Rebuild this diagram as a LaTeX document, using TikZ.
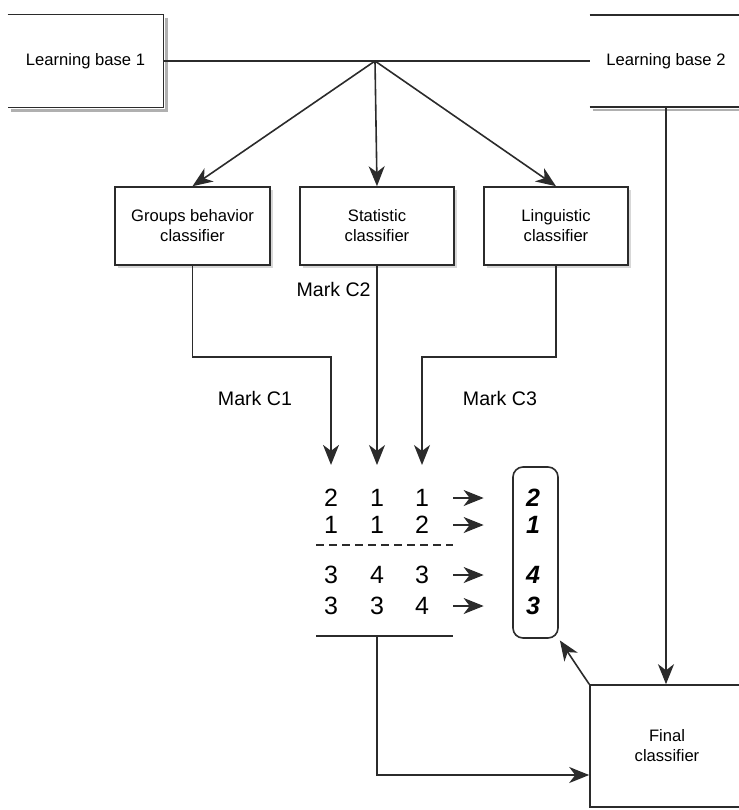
\documentclass[tikz,border=0pt]{standalone}
\usepackage{fontspec}
\setmainfont{Liberation Sans}
\usepackage{xcolor}
\definecolor{inkGrey}   {HTML}{2B2B2B}
\definecolor{shadeGrey} {HTML}{B0B0B0}
\usetikzlibrary{arrows.meta, positioning, calc, shadows}
\tikzset{
    clsbox/.style={draw=inkGrey, line width=0.8pt, fill=white, rectangle,
                   minimum width=77.5pt, minimum height=39pt, align=center,
                   font=\fontsize{8.3}{10}\selectfont,
                   drop shadow={shadow xshift=1.3pt, shadow yshift=-1.3pt,
                                fill=shadeGrey}},
    basebox/.style={rectangle, minimum width=77.5pt, minimum height=46pt,
                    font=\fontsize{8.3}{10}\selectfont},
    flow/.style={-{Stealth[length=10pt, width=8pt, inset=3pt]},
                 line width=0.8pt, draw=inkGrey},
    plain/.style={-, line width=0.8pt, draw=inkGrey},
    baseshadow/.style={-, line width=1.2pt, draw=shadeGrey},
}

\begin{document}
\begin{tikzpicture}[
    x=0.5pt, y=-0.5pt,
    marklbl/.style={font=\fontsize{9.8}{12}\selectfont, inner sep=1pt},
    digit/.style={font=\fontsize{12.5}{14}\selectfont, inner sep=1pt},
    winner/.style={font=\fontsize{12.5}{14}\selectfont\bfseries\itshape,
                   inner sep=1pt},
    resbox/.style={draw=inkGrey, line width=0.8pt, rectangle,
                   rounded corners=5pt, minimum width=22.5pt,
                   minimum height=85.5pt},
]
\useasboundingbox (0,0) rectangle (739,810);
\clip (0,0) rectangle (739,810);

% --- learning bases ---
\node[basebox] (lb1) at (85.5,61) {Learning base 1};
\node[basebox, minimum width=76pt, minimum height=45.5pt] (lb2) at (666,61)
    {Learning base 2};
\draw[baseshadow] ([shift={(3,3)}]lb1.north east) -- ([shift={(3,3)}]lb1.south east)
    -- ([shift={(3,3)}]lb1.south west);
\draw[plain] (lb1.north west) -- (lb1.north east) -- (lb1.south east)
    -- (lb1.south west);
\draw[baseshadow] ([shift={(3,3)}]lb2.south west) -- ([shift={(3,3)}]lb2.south east);
\draw[plain] (lb2.north west) -- (lb2.north east);
\draw[plain] (lb2.south west) -- (lb2.south east);
\draw[plain] (lb1.east) -- (lb2.west);
\coordinate (fan) at (375,61);

% --- classifiers ---
\node[clsbox] (gbc) at (192.5,226) {Groups behavior\\classifier};
\node[clsbox, minimum width=77pt] (sc) at (377,226) {Statistic\\classifier};
\node[clsbox, minimum width=72pt] (lc) at (556,226) {Linguistic\\classifier};
\draw[flow] (fan) -- (gbc.north);
\draw[flow] (fan) -- (sc.north);
\draw[flow] (fan) -- (lc.north);

% --- marks ---
\node[marklbl, anchor=east] (mk2) at (373,289) {Mark C2};
\node[marklbl] (mk1) at (255,398) {Mark C1};
\node[marklbl] (mk3) at (500,398) {Mark C3};

% --- vote table ---
\node[digit] (v11) at (331,498) {2};
\node[digit] (v12) at (377,498) {1};
\node[digit] (v13) at (422,498) {1};
\node[digit] (v21) at (331,525) {1};
\node[digit] (v22) at (377,525) {1};
\node[digit] (v23) at (422,525) {2};
\node[digit] (v31) at (331,575) {3};
\node[digit] (v32) at (377,575) {4};
\node[digit] (v33) at (422,575) {3};
\node[digit] (v41) at (331,606) {3};
\node[digit] (v42) at (377,606) {3};
\node[digit] (v43) at (422,606) {4};
\draw[flow, shorten >=11pt] (gbc.south) -- ++(0,91) -| (v11.north);
\draw[flow, shorten >=11pt] (sc.south) -- (v12.north);
\draw[flow, shorten >=11pt] (lc.south) -- ++(0,91) -| (v13.north);
\coordinate (sepL) at (316,545);
\coordinate (sepR) at (453,545);
\draw[plain, dash pattern=on 4pt off 2.5pt] (sepL) -- (sepR);
\coordinate (barL) at (316,636);
\coordinate (barR) at (453,636);
\coordinate (barM) at (377,636);
\draw[plain] (barL) -- (barR);

% --- results ---
\node[resbox] (res) at (535.5,552.5) {};
\node[winner] (r1) at (533,498) {2};
\node[winner] (r2) at (533,525) {1};
\node[winner] (r3) at (533,575) {4};
\node[winner] (r4) at (533,606) {3};
\draw[flow, shorten <=11pt, shorten >=20pt] (v13.east) -- (r1.west);
\draw[flow, shorten <=11pt, shorten >=20pt] (v23.east) -- (r2.west);
\draw[flow, shorten <=11pt, shorten >=20pt] (v33.east) -- (r3.west);
\draw[flow, shorten <=11pt, shorten >=20pt] (v43.east) -- (r4.west);

% --- final classifier ---
\node[draw=inkGrey, line width=0.8pt, rectangle, minimum width=77pt,
      minimum height=61pt, align=center, font=\fontsize{8.3}{10}\selectfont]
    (fc) at (667,746) {Final\\classifier};
\coordinate (fcin) at ($(fc.west)+(0,29)$);
\draw[flow] (barM) |- (fcin);
\draw[flow] (lb2.south) -- (lb2.south |- fc.north);
\draw[flow, shorten >=1pt] (fc.north west) -- (res.south east);
\end{tikzpicture}
\end{document}
